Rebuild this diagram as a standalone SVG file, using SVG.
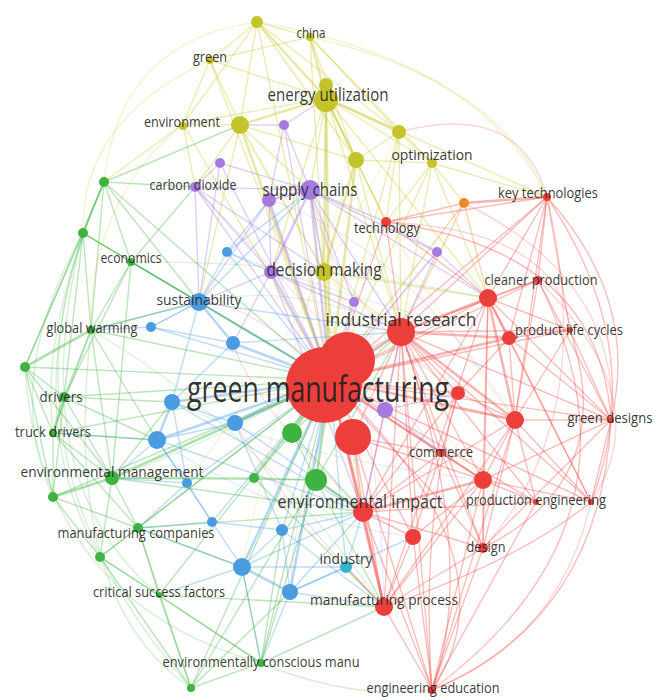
<svg xmlns="http://www.w3.org/2000/svg" width="665" height="700" viewBox="0 0 665 700">
<style>
#edges path{fill:none;stroke-width:1.4;stroke-opacity:.36;stroke-linecap:round}
#edges .w{stroke-width:2.6;stroke-opacity:.42}
#edges .f{stroke-opacity:.22}
#edges .h{stroke-width:1.1;stroke-opacity:.2}
.r{stroke:#f04b46}.y{stroke:#c9c832}.p{stroke:#a57be0}.b{stroke:#4fa0e2}.g{stroke:#44b544}.o{stroke:#f08a2c}.t{stroke:#3cb4c8}
.nr{fill:#ec3f3b}.ny{fill:#c4c42a}.np{fill:#a57be0}.nb{fill:#4a9be0}.ng{fill:#3fb33f}.no{fill:#f0882a}.nt{fill:#34b4c8}
text{font-family:"Open Sans","Liberation Sans",sans-serif;fill:#262626;fill-opacity:.92;text-anchor:middle;font-size:14px}
.m{font-size:19px}
.big{font-size:36px;fill:#1e1e1e}
</style>
<rect width="665" height="700" fill="#fff"/>
<g id="edges">
<path class="r w" d="M330 380L401 332"/><path class="r" d="M330 380L488 298"/><path class="r" d="M330 380L538 280"/><path class="r w" d="M330 380L509 338"/><path class="r" d="M330 380L570 330"/><path class="r" d="M330 380L458 393"/><path class="r w" d="M330 380L515 420"/><path class="r" d="M330 380L611 420"/><path class="r" d="M330 380L441 453"/><path class="r w" d="M330 380L483 480"/><path class="r w" d="M330 380L363 512"/><path class="r" d="M330 380L536 502"/><path class="r" d="M330 380L591 502"/><path class="r" d="M330 380L413 537"/><path class="r" d="M330 380L483 548"/><path class="r w" d="M330 380L384 607"/><path class="r" d="M330 380L547 197"/><path class="r" d="M330 380L386 222"/><path class="o" d="M330 380L464 203"/><path class="t" d="M330 380L346 567"/>
<path class="y" d="M330 380L257 22"/><path class="y" d="M330 380L310 37"/><path class="y" d="M330 380L210 60"/><path class="y w" d="M330 380L326 98"/><path class="y" d="M330 380L183 124"/><path class="y w" d="M330 380L240 125"/><path class="y" d="M330 380L399 132"/><path class="y" d="M330 380L432 163"/><path class="y w" d="M330 380L356 160"/><path class="y w" d="M330 380L324 272"/>
<path class="p" d="M330 380L284 125"/><path class="p" d="M330 380L220 163"/><path class="p" d="M330 380L195 187"/><path class="p w" d="M330 380L310 190"/><path class="p w" d="M330 380L269 200"/><path class="p" d="M330 380L437 252"/><path class="p w" d="M330 380L271 272"/><path class="p" d="M330 380L354 302"/><path class="p" d="M330 380L385 410"/>
<path class="b" d="M330 380L227 252"/><path class="b w" d="M330 380L199 302"/><path class="b" d="M330 380L151 327"/><path class="b w" d="M330 380L233 343"/><path class="b w" d="M330 380L172 402"/><path class="b w" d="M330 380L235 423"/><path class="b w" d="M330 380L157 440"/><path class="b" d="M330 380L187 483"/><path class="b" d="M330 380L212 522"/><path class="b" d="M330 380L282 530"/><path class="b w" d="M330 380L242 567"/><path class="b w" d="M330 380L290 592"/>
<path class="g" d="M330 380L104 182"/><path class="g" d="M330 380L83 233"/><path class="g" d="M330 380L131 262"/><path class="g" d="M330 380L91 330"/><path class="g" d="M330 380L25 367"/><path class="g" d="M330 380L64 397"/><path class="g" d="M330 380L53 433"/><path class="g w" d="M330 380L292 433"/><path class="g w" d="M330 380L112 478"/><path class="g" d="M330 380L254 478"/><path class="g w" d="M330 380L316 480"/><path class="g" d="M330 380L53 497"/><path class="g" d="M330 380L138 528"/><path class="g" d="M330 380L100 557"/><path class="g" d="M330 380L159 595"/><path class="g" d="M330 380L261 663"/><path class="g" d="M330 380L191 688"/>
<path class="r" d="M353 437L363 512"/><path class="r" d="M353 437L384 607"/><path class="r" d="M353 437L441 453"/><path class="r" d="M353 437L483 480"/><path class="r" d="M353 437L401 332"/><path class="r" d="M353 437L432 690"/>
<path class="r w" d="M401 332L488 298"/><path class="r" d="M401 332L538 280"/><path class="r w" d="M401 332L509 338"/><path class="r" d="M401 332L570 330"/><path class="r" d="M401 332L547 197"/><path class="r" d="M401 332L386 222"/><path class="r" d="M401 332L611 420"/><path class="r w" d="M401 332L515 420"/><path class="r" d="M401 332L483 480"/><path class="r" d="M401 332L536 502"/><path class="r" d="M401 332L591 502"/><path class="r" d="M401 332L363 512"/><path class="r" d="M401 332L384 607"/><path class="r" d="M401 332L483 548"/><path class="r" d="M401 332L458 393"/><path class="r" d="M401 332L441 453"/><path class="r" d="M401 332L413 537"/><path class="r" d="M401 332L432 690"/><path class="o" d="M401 332L464 203"/>
<path class="r w" d="M488 298L509 338"/><path class="r" d="M488 298L547 197"/><path class="r" d="M488 298L611 420"/><path class="r w" d="M488 298L515 420"/><path class="r" d="M488 298L483 480"/><path class="r" d="M488 298L591 502"/><path class="r" d="M488 298L483 548"/><path class="r" d="M488 298L570 330"/><path class="r" d="M488 298L538 280"/><path class="o" d="M488 298L464 203"/><path class="r" d="M488 298L386 222"/><path class="r" d="M488 298L363 512"/><path class="r" d="M488 298L384 607"/>
<path class="r" d="M547 197L538 280"/><path class="r" d="M547 197L509 338"/><path class="r" d="M547 197Q640 300 611 420"/><path class="r w" d="M547 197L464 203"/><path class="r" d="M547 197L570 330"/><path class="r" d="M547 197Q650 350 591 502"/><path class="r" d="M547 197L515 420"/><path class="r" d="M547 197L386 222"/>
<path class="r" d="M515 420L509 338"/><path class="r" d="M515 420L483 480"/><path class="r" d="M515 420L536 502"/><path class="r" d="M515 420L483 548"/><path class="r" d="M515 420L611 420"/><path class="r" d="M515 420L432 690"/><path class="r" d="M515 420L384 607"/><path class="r" d="M515 420L363 512"/><path class="r" d="M515 420L538 280"/><path class="r" d="M515 420L570 330"/><path class="r" d="M515 420L591 502"/>
<path class="r" d="M483 480L536 502"/><path class="r" d="M483 480L591 502"/><path class="r" d="M483 480L483 548"/><path class="r" d="M483 480L611 420"/><path class="r w" d="M483 480L363 512"/><path class="r" d="M483 480L384 607"/><path class="r" d="M483 480L413 537"/><path class="r" d="M483 480L441 453"/>
<path class="r w" d="M363 512L384 607"/><path class="r" d="M363 512L413 537"/><path class="r" d="M363 512L483 548"/><path class="r" d="M363 512L432 690"/><path class="r" d="M363 512L536 502"/><path class="t" d="M363 512L346 567"/><path class="r" d="M363 512L441 453"/><path class="r" d="M363 512L458 393"/>
<path class="r" d="M384 607L432 690"/><path class="r" d="M384 607L483 548"/><path class="r" d="M384 607L413 537"/><path class="r" d="M384 607L346 567"/><path class="r" d="M384 607Q520 560 591 502"/>
<path class="r" d="M432 690L413 537"/><path class="r" d="M432 690L483 548"/><path class="r" d="M432 690L483 480"/><path class="r" d="M432 690L536 502"/><path class="r" d="M432 690Q600 620 611 420"/><path class="r" d="M432 690Q660 520 538 280"/><path class="r" d="M432 690Q480 560 401 332"/><path class="r" d="M432 690Q420 520 458 393"/>
<path class="r" d="M611 420L591 502"/><path class="r" d="M611 420L483 548"/><path class="r" d="M611 420L570 330"/><path class="r" d="M611 420L538 280"/><path class="r" d="M611 420L509 338"/>
<path class="r" d="M509 338L570 330"/><path class="r" d="M509 338L591 502"/><path class="r" d="M509 338L458 393"/><path class="r" d="M458 393L515 420"/><path class="r" d="M458 393L441 453"/><path class="r" d="M386 222L464 203"/><path class="r" d="M570 330Q620 480 483 548"/><path class="r" d="M386 222Q600 250 611 420"/><path class="r" d="M330 380Q520 560 432 690"/><path class="r" d="M441 453L413 537"/><path class="r" d="M441 453L483 548"/>
<path class="r f" d="M547 197Q520 100 399 132"/><path class="r f" d="M591 502Q560 640 432 690"/><path class="r f" d="M538 280Q660 400 591 502"/><path class="r f" d="M547 197Q600 420 483 548"/><path class="r f" d="M386 222Q560 230 570 330"/><path class="r f" d="M464 203Q620 280 611 420"/>
<path class="y" d="M257 22L310 37"/><path class="y" d="M257 22L210 60"/><path class="y w" d="M257 22L326 98"/><path class="y" d="M257 22L240 125"/><path class="y" d="M257 22L399 132"/><path class="y" d="M257 22L356 160"/><path class="y" d="M257 22L183 124"/>
<path class="y w" d="M310 37L326 98"/><path class="y" d="M310 37L399 132"/><path class="y" d="M310 37L356 160"/><path class="y" d="M310 37L210 60"/><path class="y" d="M310 37L432 163"/>
<path class="y" d="M210 60L326 98"/><path class="y" d="M210 60L240 125"/><path class="y" d="M210 60L183 124"/>
<path class="y w" d="M326 98L240 125"/><path class="y w" d="M326 98L399 132"/><path class="y w" d="M326 98L356 160"/><path class="y" d="M326 98L432 163"/><path class="y w" d="M326 98L324 272"/><path class="y" d="M326 98L183 124"/><path class="y" d="M326 98L310 190"/><path class="y" d="M326 98L401 332"/><path class="y" d="M326 98L386 222"/><path class="y" d="M326 98L547 197"/><path class="y" d="M326 98L488 298"/><path class="y" d="M326 98L271 272"/>
<path class="y" d="M240 125L183 124"/><path class="y" d="M240 125L356 160"/><path class="y" d="M240 125L324 272"/><path class="y" d="M240 125L195 187"/><path class="y" d="M240 125L310 190"/><path class="y" d="M240 125L199 302"/>
<path class="y" d="M399 132L432 163"/><path class="y" d="M399 132L356 160"/><path class="y" d="M399 132L386 222"/><path class="y" d="M399 132L401 332"/>
<path class="y w" d="M356 160L324 272"/><path class="y" d="M356 160L432 163"/><path class="y" d="M356 160L386 222"/><path class="y" d="M356 160L401 332"/>
<path class="y" d="M432 163L386 222"/><path class="y" d="M432 163L547 197"/><path class="y" d="M432 163L488 298"/><path class="y" d="M432 163L464 203"/><path class="y" d="M432 163L401 332"/>
<path class="y" d="M183 124L104 182"/><path class="y" d="M183 124L195 187"/><path class="y" d="M324 272L401 332"/><path class="y" d="M324 272L310 190"/><path class="y" d="M324 272L488 298"/><path class="y" d="M324 272L363 512"/>
<path class="y f" d="M257 22Q120 40 104 182"/><path class="y f" d="M310 37Q500 80 547 197"/><path class="y f" d="M257 22Q480 60 547 197"/><path class="y f" d="M210 60Q80 120 83 233"/><path class="y f" d="M183 124Q90 200 91 330"/>
<path class="p" d="M284 125L310 190"/><path class="p" d="M284 125L326 98"/><path class="p" d="M284 125L240 125"/><path class="p" d="M284 125L269 200"/>
<path class="p" d="M220 163L195 187"/><path class="p" d="M220 163L310 190"/><path class="p" d="M220 163L199 302"/>
<path class="p" d="M195 187L310 190"/><path class="p" d="M195 187L271 272"/><path class="p" d="M195 187L199 302"/><path class="p" d="M195 187L324 272"/>
<path class="p w" d="M310 190L269 200"/><path class="p w" d="M310 190L271 272"/><path class="p" d="M310 190L324 272"/><path class="p" d="M310 190L401 332"/><path class="p" d="M310 190L437 252"/><path class="p" d="M310 190L354 302"/><path class="p" d="M310 190L386 222"/><path class="p" d="M310 190L488 298"/><path class="p" d="M269 200L271 272"/><path class="p" d="M269 200L199 302"/>
<path class="p" d="M271 272L354 302"/><path class="p" d="M271 272L199 302"/><path class="p" d="M271 272L233 343"/><path class="p" d="M271 272L401 332"/><path class="p" d="M271 272L363 512"/>
<path class="p" d="M437 252L401 332"/><path class="p" d="M437 252L488 298"/><path class="p" d="M437 252L386 222"/><path class="p" d="M385 410L401 332"/><path class="p" d="M385 410L363 512"/><path class="p" d="M385 410L458 393"/><path class="p" d="M385 410L441 453"/>
<path class="b" d="M227 252L199 302"/><path class="b" d="M227 252L310 190"/><path class="b" d="M227 252L271 272"/><path class="b" d="M227 252L269 200"/>
<path class="b" d="M199 302L151 327"/><path class="b w" d="M199 302L233 343"/><path class="b" d="M199 302L172 402"/><path class="b" d="M199 302L131 262"/><path class="b" d="M199 302L91 330"/><path class="b" d="M199 302L401 332"/><path class="b" d="M199 302L310 190"/>
<path class="b" d="M151 327L91 330"/><path class="b" d="M151 327L233 343"/><path class="b" d="M151 327L199 302"/><path class="b" d="M233 343L172 402"/><path class="b" d="M233 343L401 332"/>
<path class="b w" d="M172 402L157 440"/><path class="b" d="M172 402L235 423"/><path class="b" d="M172 402L187 483"/><path class="b" d="M172 402L363 512"/>
<path class="b" d="M235 423L157 440"/><path class="b" d="M235 423L282 530"/><path class="b" d="M235 423L401 332"/><path class="b" d="M235 423L363 512"/>
<path class="b" d="M157 440L112 478"/><path class="b" d="M157 440L187 483"/><path class="b" d="M157 440L212 522"/><path class="b" d="M157 440L53 433"/><path class="b" d="M157 440L363 512"/>
<path class="b" d="M187 483L212 522"/><path class="b" d="M187 483L112 478"/><path class="b" d="M187 483L138 528"/>
<path class="b" d="M212 522L242 567"/><path class="b" d="M212 522L138 528"/><path class="b" d="M212 522L282 530"/>
<path class="b" d="M282 530L242 567"/><path class="b" d="M282 530L290 592"/><path class="b" d="M282 530L363 512"/><path class="b" d="M282 530L384 607"/>
<path class="b w" d="M242 567L290 592"/><path class="b" d="M242 567L138 528"/><path class="b" d="M242 567L159 595"/><path class="b" d="M242 567L261 663"/><path class="b" d="M242 567L363 512"/><path class="b" d="M242 567L346 567"/>
<path class="b" d="M290 592L384 607"/><path class="b" d="M290 592L346 567"/><path class="b" d="M290 592L261 663"/><path class="b" d="M290 592L413 537"/><path class="b" d="M290 592L363 512"/>
<path class="g" d="M104 182L83 233"/><path class="g" d="M104 182L131 262"/><path class="g" d="M104 182L91 330"/><path class="g" d="M104 182L195 187"/><path class="g" d="M104 182L199 302"/><path class="g" d="M104 182L25 367"/><path class="g" d="M104 182L240 125"/>
<path class="g" d="M83 233L131 262"/><path class="g" d="M83 233L91 330"/><path class="g" d="M83 233L25 367"/><path class="g" d="M83 233L64 397"/><path class="g" d="M83 233L199 302"/>
<path class="g" d="M131 262L91 330"/><path class="g" d="M131 262L64 397"/><path class="g" d="M131 262L199 302"/><path class="g" d="M131 262L195 187"/><path class="g" d="M131 262L112 478"/>
<path class="g w" d="M91 330L25 367"/><path class="g" d="M91 330L64 397"/><path class="g" d="M91 330L53 433"/><path class="g" d="M91 330L112 478"/><path class="g" d="M91 330L199 302"/><path class="g" d="M91 330L157 440"/>
<path class="g" d="M25 367L64 397"/><path class="g" d="M25 367L53 433"/><path class="g" d="M25 367L53 497"/><path class="g" d="M25 367L112 478"/>
<path class="g w" d="M64 397L53 433"/><path class="g" d="M64 397L112 478"/><path class="g" d="M64 397L53 497"/><path class="g" d="M64 397L157 440"/><path class="g" d="M64 397L172 402"/>
<path class="g" d="M53 433L112 478"/><path class="g" d="M53 433L53 497"/><path class="g" d="M53 433L138 528"/><path class="g" d="M53 433L157 440"/>
<path class="g w" d="M112 478L53 497"/><path class="g" d="M112 478L138 528"/><path class="g" d="M112 478L100 557"/><path class="g" d="M112 478L254 478"/><path class="g" d="M112 478L316 480"/><path class="g" d="M112 478L172 402"/><path class="g" d="M112 478L363 512"/>
<path class="g" d="M53 497L138 528"/><path class="g" d="M53 497L100 557"/>
<path class="g" d="M138 528L100 557"/><path class="g" d="M138 528L159 595"/><path class="g" d="M138 528L191 688"/><path class="g" d="M138 528L363 512"/><path class="g" d="M138 528L242 567"/>
<path class="g" d="M100 557L159 595"/><path class="g" d="M100 557L261 663"/><path class="g" d="M100 557L191 688"/>
<path class="g" d="M159 595L261 663"/><path class="g" d="M159 595L191 688"/><path class="g" d="M159 595L384 607"/>
<path class="g" d="M261 663L191 688"/><path class="g" d="M261 663L316 480"/><path class="g" d="M261 663L384 607"/><path class="g" d="M191 688L316 480"/><path class="g" d="M191 688L290 592"/><path class="g" d="M261 663L242 567"/><path class="g" d="M261 663L282 530"/>
<path class="g w" d="M316 480L363 512"/><path class="g" d="M316 480L254 478"/><path class="g" d="M292 433L316 480"/><path class="g" d="M254 478L292 433"/><path class="g" d="M292 433L401 332"/><path class="g" d="M292 433L363 512"/><path class="g" d="M316 480L384 607"/><path class="g" d="M316 480L401 332"/><path class="g" d="M254 478L384 607"/>
<path class="g f" d="M104 182Q-20 450 191 688"/><path class="g f" d="M25 367Q40 600 261 663"/><path class="g f" d="M91 330Q60 600 191 688"/><path class="g f" d="M83 233Q20 480 159 595"/><path class="g f" d="M104 182Q10 400 100 557"/><path class="g f" d="M261 663Q350 700 432 690"/><path class="g f" d="M83 233Q0 380 53 497"/><path class="g f" d="M104 182Q40 330 53 433"/>
<path class="r h" d="M330 380Q250 300 199 302"/><path class="b h" d="M199 302Q300 280 401 332"/><path class="g h" d="M112 478Q250 430 401 332"/><path class="p h" d="M269 200Q400 240 515 420"/><path class="y h" d="M240 125Q330 300 483 480"/><path class="b h" d="M172 402Q300 460 483 480"/><path class="p h" d="M195 187Q330 330 441 453"/><path class="y h" d="M326 98Q420 300 515 420"/><path class="g h" d="M91 330Q250 420 384 607"/><path class="b h" d="M157 440Q280 520 413 537"/><path class="r h" d="M363 512Q250 400 233 343"/><path class="r h" d="M384 607Q280 500 235 423"/><path class="y h" d="M356 160Q300 300 242 567"/><path class="p h" d="M310 190Q380 400 384 607"/><path class="b h" d="M227 252Q350 300 509 338"/><path class="g h" d="M131 262Q300 260 488 298"/><path class="r h" d="M458 393Q330 300 310 190"/><path class="r h" d="M515 420Q330 380 172 402"/><path class="p h" d="M437 252Q300 400 290 592"/><path class="y h" d="M399 132Q300 330 187 483"/>
</g>
<g id="nodes">
<g id="n-r3"><circle class="nr" cx="353" cy="437" r="18"/></g>
<g id="n-r458"><circle class="nr" cx="458" cy="393" r="7"/></g>
<g id="n-r-gd"><circle class="nr" cx="515" cy="420" r="9"/></g>
<g id="n-r483"><circle class="nr" cx="483" cy="480" r="9"/></g>
<g id="n-r413"><circle class="nr" cx="413" cy="537" r="8"/></g>
<g id="n-r-cp"><circle class="nr" cx="488" cy="298" r="9"/></g>
<g id="n-r-plc"><circle class="nr" cx="509" cy="338" r="7"/></g>
<g id="n-orange"><circle class="no" cx="464" cy="203" r="5"/></g>
<g id="n-y1"><circle class="ny" cx="257" cy="22" r="6"/></g>
<g id="n-y240"><circle class="ny" cx="240" cy="125" r="9"/></g>
<g id="n-y399"><circle class="ny" cx="399" cy="132" r="7"/></g>
<g id="n-y356"><circle class="ny" cx="356" cy="160" r="8"/></g>
<g id="n-p284"><circle class="np" cx="284" cy="125" r="5"/></g>
<g id="n-p220"><circle class="np" cx="220" cy="163" r="5"/></g>
<g id="n-p437"><circle class="np" cx="437" cy="252" r="5"/></g>
<g id="n-p354"><circle class="np" cx="354" cy="302" r="5"/></g>
<g id="n-p385"><circle class="np" cx="385" cy="410" r="8"/></g>
<g id="n-b227"><circle class="nb" cx="227" cy="252" r="5"/></g>
<g id="n-b151"><circle class="nb" cx="151" cy="327" r="5"/></g>
<g id="n-b233"><circle class="nb" cx="233" cy="343" r="7"/></g>
<g id="n-b172"><circle class="nb" cx="172" cy="402" r="8"/></g>
<g id="n-b235"><circle class="nb" cx="235" cy="423" r="8"/></g>
<g id="n-b157"><circle class="nb" cx="157" cy="440" r="9"/></g>
<g id="n-b187"><circle class="nb" cx="187" cy="483" r="5"/></g>
<g id="n-b212"><circle class="nb" cx="212" cy="522" r="5"/></g>
<g id="n-b282"><circle class="nb" cx="282" cy="530" r="6"/></g>
<g id="n-b242"><circle class="nb" cx="242" cy="567" r="9"/></g>
<g id="n-b290"><circle class="nb" cx="290" cy="592" r="8"/></g>
<g id="n-g104"><circle class="ng" cx="104" cy="182" r="5"/></g>
<g id="n-g83"><circle class="ng" cx="83" cy="233" r="5"/></g>
<g id="n-g25"><circle class="ng" cx="25" cy="367" r="5"/></g>
<g id="n-g292"><circle class="ng" cx="292" cy="433" r="10"/></g>
<g id="n-g254"><circle class="ng" cx="254" cy="478" r="5"/></g>
<g id="n-g316"><circle class="ng" cx="316" cy="480" r="11"/></g>
<g id="n-g53"><circle class="ng" cx="53" cy="497" r="5"/></g>
<g id="n-g100"><circle class="ng" cx="100" cy="557" r="5"/></g>
<g id="n-g191"><circle class="ng" cx="191" cy="688" r="4"/></g>
<g id="n-china"><circle class="ny" cx="310" cy="37" r="4"/><text x="311" y="38" textLength="29" lengthAdjust="spacingAndGlyphs">china</text></g>
<g id="n-green"><circle class="ny" cx="210" cy="60" r="4"/><text x="210" y="62" textLength="34" lengthAdjust="spacingAndGlyphs">green</text></g>
<g id="n-energy-utilization"><circle class="ny" cx="326" cy="85" r="7"/><circle class="ny" cx="326" cy="100" r="12"/><text class="m" x="328" y="101" textLength="121" lengthAdjust="spacingAndGlyphs">energy utilization</text></g>
<g id="n-environment"><circle class="ny" cx="183" cy="126" r="4"/><text x="182" y="127" textLength="76" lengthAdjust="spacingAndGlyphs">environment</text></g>
<g id="n-optimization"><circle class="ny" cx="432" cy="163" r="5"/><text x="432" y="160" textLength="81" lengthAdjust="spacingAndGlyphs">optimization</text></g>
<g id="n-carbon-dioxide"><circle class="np" cx="195" cy="187" r="5"/><text x="193" y="190" textLength="87" lengthAdjust="spacingAndGlyphs">carbon dioxide</text></g>
<g id="n-supply-chains"><circle class="np" cx="269" cy="200" r="7"/><circle class="np" cx="310" cy="190" r="10"/><text class="m" x="310" y="196" textLength="95" lengthAdjust="spacingAndGlyphs">supply chains</text></g>
<g id="n-key-technologies"><circle class="nr" cx="547" cy="197" r="4"/><text x="548" y="198" textLength="100" lengthAdjust="spacingAndGlyphs">key technologies</text></g>
<g id="n-technology"><circle class="nr" cx="386" cy="222" r="5"/><text x="387" y="233" textLength="66" lengthAdjust="spacingAndGlyphs">technology</text></g>
<g id="n-economics"><circle class="ng" cx="131" cy="262" r="4"/><text x="131" y="263" textLength="61" lengthAdjust="spacingAndGlyphs">economics</text></g>
<g id="n-decision-making"><circle class="np" cx="271" cy="272" r="7"/><circle class="ny" cx="324" cy="272" r="9"/><text class="m" x="324" y="276" textLength="115" lengthAdjust="spacingAndGlyphs">decision making</text></g>
<g id="n-cleaner-production"><circle class="nr" cx="538" cy="280" r="4"/><text x="541" y="285" textLength="113" lengthAdjust="spacingAndGlyphs">cleaner production</text></g>
<g id="n-sustainability"><circle class="nb" cx="199" cy="302" r="9"/><text x="199" y="305" textLength="85" lengthAdjust="spacingAndGlyphs">sustainability</text></g>
<g id="n-global-warming"><circle class="ng" cx="91" cy="330" r="4"/><text x="92" y="333" textLength="91" lengthAdjust="spacingAndGlyphs">global warming</text></g>
<g id="n-product-life-cycles"><circle class="nr" cx="570" cy="330" r="3"/><text x="569" y="335" textLength="108" lengthAdjust="spacingAndGlyphs">product life cycles</text></g>
<g id="n-industrial-research"><circle class="nr" cx="401" cy="332" r="14"/><text class="m" x="401" y="326" textLength="151" lengthAdjust="spacingAndGlyphs">industrial research</text></g>
<g id="n-drivers"><circle class="ng" cx="64" cy="397" r="5"/><text x="61" y="402" textLength="43" lengthAdjust="spacingAndGlyphs">drivers</text></g>
<g id="n-green-designs"><circle class="nr" cx="611" cy="420" r="3"/><text x="610" y="423" textLength="85" lengthAdjust="spacingAndGlyphs">green designs</text></g>
<g id="n-truck-drivers"><circle class="ng" cx="53" cy="433" r="4"/><text x="53" y="437" textLength="76" lengthAdjust="spacingAndGlyphs">truck drivers</text></g>
<g id="n-commerce"><circle class="nr" cx="441" cy="453" r="4"/><text x="441" y="457" textLength="64" lengthAdjust="spacingAndGlyphs">commerce</text></g>
<g id="n-environmental-management"><circle class="ng" cx="112" cy="478" r="7"/><text x="112" y="477" textLength="183" lengthAdjust="spacingAndGlyphs">environmental management</text></g>
<g id="n-environmental-impact"><circle class="nr" cx="363" cy="512" r="10"/><text class="m" x="360" y="508" textLength="165" lengthAdjust="spacingAndGlyphs">environmental impact</text></g>
<g id="n-production-engineering"><circle class="nr" cx="536" cy="502" r="3"/><circle class="nr" cx="591" cy="502" r="3"/><text x="536" y="505" textLength="140" lengthAdjust="spacingAndGlyphs">production engineering</text></g>
<g id="n-manufacturing-companies"><circle class="ng" cx="138" cy="528" r="5"/><text x="136" y="538" textLength="157" lengthAdjust="spacingAndGlyphs">manufacturing companies</text></g>
<g id="n-design"><circle class="nr" cx="483" cy="548" r="5"/><text x="486" y="552" textLength="39" lengthAdjust="spacingAndGlyphs">design</text></g>
<g id="n-industry"><circle class="nt" cx="346" cy="567" r="6"/><text x="346" y="564" textLength="53" lengthAdjust="spacingAndGlyphs">industry</text></g>
<g id="n-critical-success-factors"><circle class="ng" cx="159" cy="595" r="3"/><text x="159" y="597" textLength="132" lengthAdjust="spacingAndGlyphs">critical success factors</text></g>
<g id="n-manufacturing-process"><circle class="nr" cx="384" cy="607" r="9"/><text x="384" y="605" textLength="148" lengthAdjust="spacingAndGlyphs">manufacturing process</text></g>
<g id="n-environmentally-conscious-manu"><circle class="ng" cx="261" cy="663" r="4"/><text x="261" y="667" textLength="197" lengthAdjust="spacingAndGlyphs">environmentally conscious manu</text></g>
<g id="n-engineering-education"><circle class="nr" cx="432" cy="690" r="4"/><text x="433" y="693" textLength="133" lengthAdjust="spacingAndGlyphs">engineering education</text></g>
<g id="n-green-manufacturing"><circle class="nr" cx="347" cy="360" r="28"/><circle class="nr" cx="324" cy="385" r="38"/><text class="big" x="318" y="402" textLength="262" lengthAdjust="spacingAndGlyphs">green manufacturing</text></g>
</g>
</svg>
